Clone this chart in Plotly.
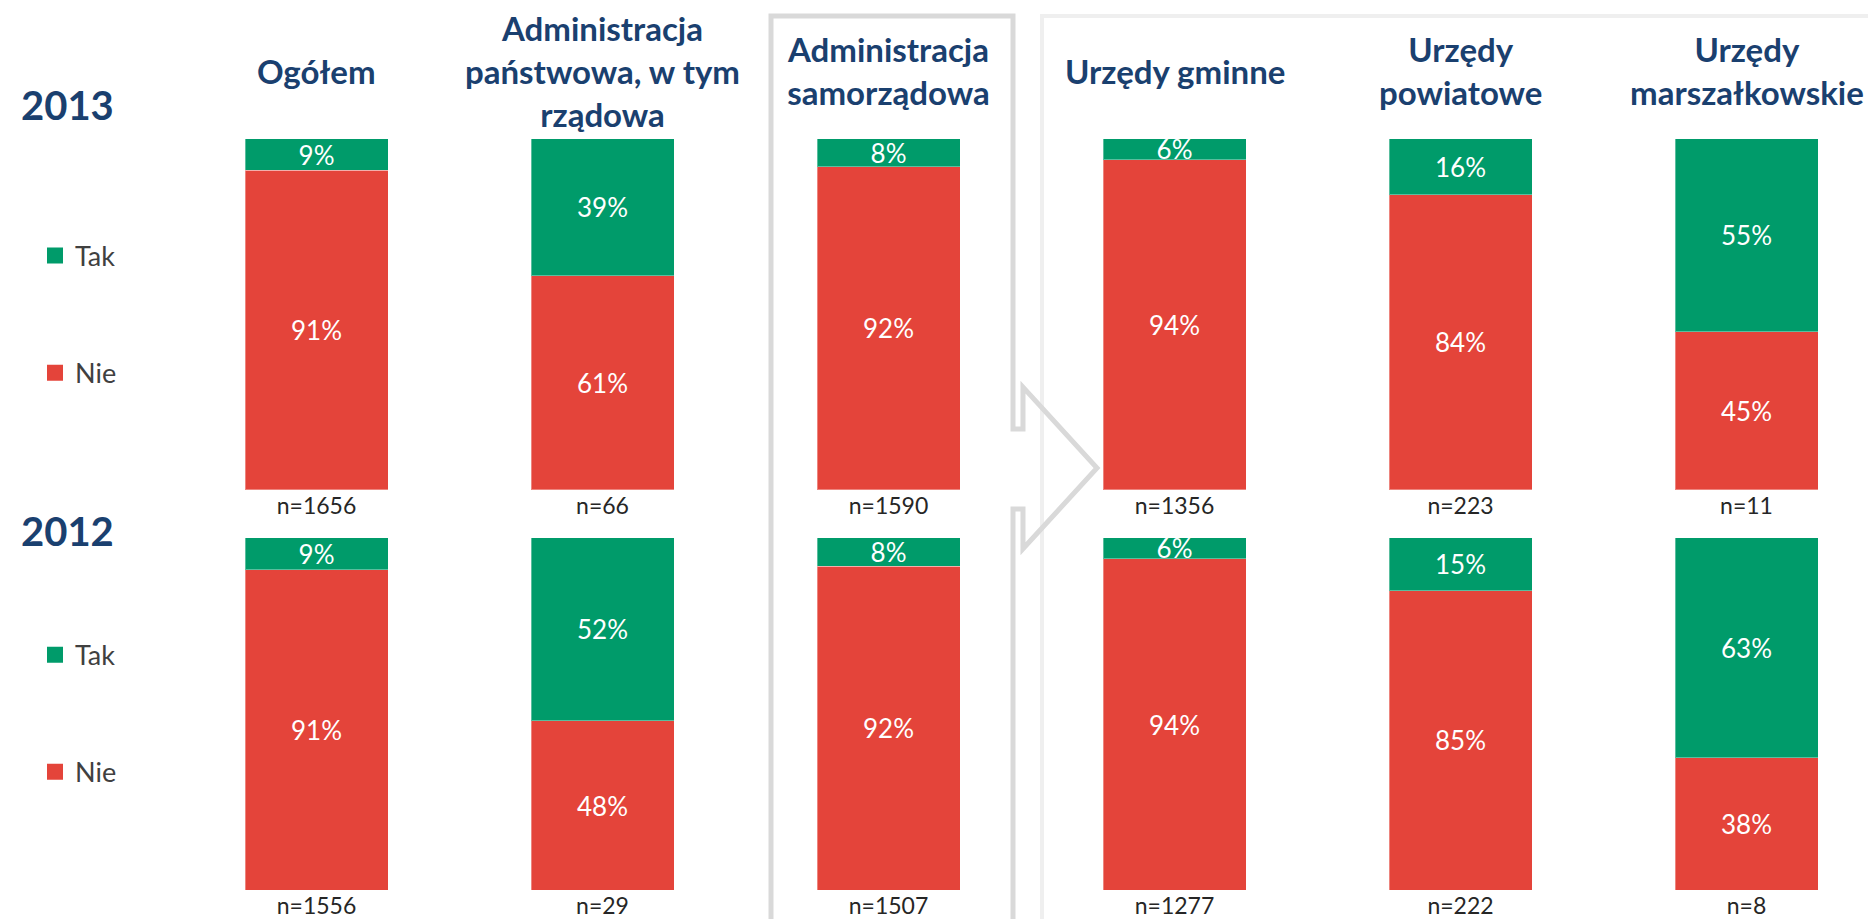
import plotly.graph_objects as go

# ---------------- data ----------------
categories = [
    "Ogółem",
    "Administracja<br>państwowa, w tym<br>rządowa",
    "Administracja<br>samorządowa",
    "Urzędy gminne",
    "Urzędy<br>powiatowe",
    "Urzędy<br>marszałkowskie",
]
years = ["2013", "2012"]
series_names = ["Tak", "Nie"]

tak_2013 = [9, 39, 8, 6, 16, 55]
nie_2013 = [91, 61, 92, 94, 84, 45]
n_2013 = [1656, 66, 1590, 1356, 223, 11]

tak_2012 = [9, 52, 8, 6, 15, 63]
nie_2012 = [91, 48, 92, 94, 85, 38]
n_2012 = [1556, 29, 1507, 1277, 222, 8]

# ---------------- style ----------------
W, H = 1868, 919
FONT = "Lato"
GREEN = "#009B6A"
RED = "#E4443A"
NAVY = "#1A406F"
GREY_TXT = "#404040"


def px(x):
    return x / W


def py(y):
    return 1 - y / H


pos = list(range(len(categories)))
# pixel mapping: x_px = 316.5 + 286 * x
x_range = [-316.5 / 286, (W - 316.5) / 286]

fig = go.Figure()

rows = [
    dict(tak=tak_2013, nie=nie_2013, n=n_2013, xa="x", ya="y", leg="legend"),
    dict(tak=tak_2012, nie=nie_2012, n=n_2012, xa="x2", ya="y2", leg="legend2"),
]

for i, r in enumerate(rows):
    fig.add_trace(go.Bar(
        x=pos, y=r["nie"], width=0.5, name="Nie",
        marker=dict(color=RED, line=dict(color="rgba(255,255,255,0.35)", width=1)),
        text=[f"{v}%" for v in r["nie"]], texttemplate="%{text}",
        textposition="inside", insidetextanchor="middle", textangle=0,
        textfont=dict(color="white", size=26, family=FONT),
        xaxis=r["xa"], yaxis=r["ya"], showlegend=False, hoverinfo="skip",
    ))
    fig.add_trace(go.Bar(
        x=pos, y=r["tak"], width=0.5, name="Tak",
        marker=dict(color=GREEN, line=dict(color="rgba(255,255,255,0.35)", width=1)),
        text=[f"{v}%" for v in r["tak"]], texttemplate="%{text}",
        textposition="inside", insidetextanchor="middle", textangle=0,
        textfont=dict(color="white", size=26, family=FONT),
        xaxis=r["xa"], yaxis=r["ya"], showlegend=False, hoverinfo="skip",
    ))
    # legend entries
    for name, col in [("Tak", GREEN), ("Nie", RED)]:
        fig.add_trace(go.Scatter(
            x=[None], y=[None], mode="markers", name=name,
            marker=dict(symbol="square", size=16, color=col),
            legend=r["leg"], legendgroup=f"{name}{i}", showlegend=True,
            xaxis=r["xa"], yaxis=r["ya"], hoverinfo="skip",
        ))

axis_common = dict(range=x_range, showgrid=False, zeroline=False, showline=False,
                   ticks="", tickvals=pos, fixedrange=True,
                   tickfont=dict(size=23, color="#262626", family=FONT))

legend_common = dict(xanchor="left", yanchor="top", x=px(35),
                     font=dict(size=27, color=GREY_TXT, family=FONT),
                     tracegroupgap=79, traceorder="grouped",
                     bgcolor="rgba(0,0,0,0)", itemwidth=30, itemclick=False)

annotations = []
for j, c in enumerate(categories):
    annotations.append(dict(x=pos[j], xref="x", y=py(71), yref="paper",
                            text=f"<b>{c}</b>", showarrow=False,
                            xanchor="center", yanchor="middle",
                            font=dict(size=33, color=NAVY, family=FONT)))
for yr, yc in zip(years, [105, 532]):
    annotations.append(dict(x=px(19), xref="paper", y=py(yc), yref="paper",
                            text=f"<b>{yr}</b>", showarrow=False,
                            xanchor="left", yanchor="middle",
                            font=dict(size=40, color=NAVY, family=FONT)))

# decorative frames: "samorządowa" box with arrow, and right-side group box
box_pts = [(1013, 950), (1013, 510), (1023, 510), (1023, 550), (1097, 469),
           (1023, 388), (1023, 430), (1013, 430), (1013, 16), (771, 16), (771, 950)]
path = "M " + " L ".join(f"{px(a):.5f},{py(b):.5f}" for a, b in box_pts)

shapes = [
    dict(type="rect", xref="paper", yref="paper", x0=px(1042), x1=px(1920),
         y0=py(16), y1=py(960), line=dict(color="#EFEFEF", width=4), layer="below"),
    dict(type="path", xref="paper", yref="paper", path=path,
         line=dict(color="#D9D9D9", width=5), layer="below"),
]

fig.update_layout(
    width=W, height=H,
    margin=dict(l=0, r=0, t=0, b=0),
    paper_bgcolor="white", plot_bgcolor="rgba(0,0,0,0)",
    barmode="stack", barnorm="percent",
    uniformtext=dict(minsize=26, mode="show"),
    font=dict(family=FONT),
    xaxis=dict(domain=[0, 1], anchor="y",
               ticktext=[f"n={v}" for v in n_2013], **axis_common),
    xaxis2=dict(domain=[0, 1], anchor="y2",
                ticktext=[f"n={v}" for v in n_2012], **axis_common),
    yaxis=dict(domain=[py(491), py(139)], range=[0, 100], visible=False, fixedrange=True),
    yaxis2=dict(domain=[py(892), py(539)], range=[0, 100], visible=False, fixedrange=True),
    legend=dict(y=py(232), **legend_common),
    legend2=dict(y=py(632), **legend_common),
    annotations=annotations,
    shapes=shapes,
    showlegend=True,
)

fig.write_html("out.html", config={"displayModeBar": False},
               post_script="document.body.style.margin='0';document.body.style.overflow='hidden';")
